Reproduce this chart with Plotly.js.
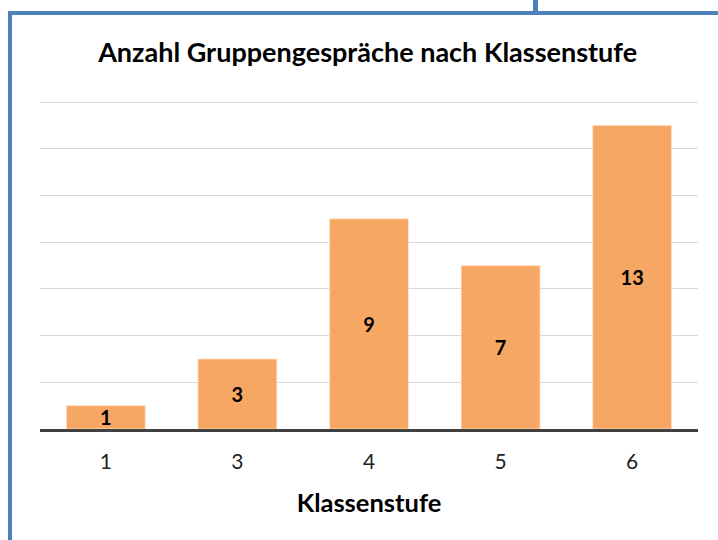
<!DOCTYPE html>
<html>
<head>
<meta charset="utf-8">
<script src="https://cdn.plot.ly/plotly-3.0.1.min.js"></script>
<style>
  html, body { margin: 0; padding: 0; background: #ffffff; }
  #wrap { position: relative; width: 718px; height: 540px; overflow: hidden; }
  #chart { position: absolute; left: 0; top: 0; width: 718px; height: 540px; }
  .frame { position: absolute; background: #4F81BD; }
</style>
</head>
<body>
<div id="wrap">
  <div id="chart"></div>
  <div class="frame" style="left:8px; top:11px; width:720px; height:4px;"></div>
  <div class="frame" style="left:8px; top:11px; width:4px; height:540px;"></div>
  <div class="frame" style="left:533px; top:0px; width:5px; height:13px;"></div>
</div>
<script>
const categories = ["1", "3", "4", "5", "6"];
const counts = [1, 3, 9, 7, 13];
const labels = counts.map(String);

const font = "Lato, 'Open Sans', 'Noto Sans', sans-serif";

const trace = {
  type: "bar",
  x: categories,
  y: counts,
  text: labels,
  textposition: "inside",
  insidetextanchor: "middle",
  textangle: 0,
  constraintext: "none",
  textfont: { family: font, size: 20, color: "#000000", weight: "bold" },
  marker: { color: "#F7A764", line: { color: "rgba(255,230,210,0.8)", width: 1 } },
  hoverinfo: "none"
};

const layout = {
  width: 718,
  height: 540,
  margin: { l: 40, r: 20, t: 95, b: 111 },
  paper_bgcolor: "rgba(0,0,0,0)",
  plot_bgcolor: "rgba(0,0,0,0)",
  bargap: 0.4,
  showlegend: false,
  title: {
    text: "<b>Anzahl Gruppengespräche nach Klassenstufe</b>",
    font: { family: font, size: 27, color: "#000000" },
    x: 0.512, xanchor: "center",
    y: 1 - 53 / 540, yanchor: "middle"
  },
  xaxis: {
    type: "category",
    showline: true,
    linecolor: "#404040",
    linewidth: 3,
    ticks: "",
    ticklabelstandoff: 12,
    tickfont: { family: font, size: 21, color: "#222222" },
    title: { text: "<b>Klassenstufe</b>", font: { family: font, size: 25.5, color: "#000000" }, standoff: 22 },
    showgrid: false
  },
  yaxis: {
    range: [0, 14.3],
    tickvals: [2, 4, 6, 8, 10, 12, 14],
    showticklabels: false,
    showgrid: true,
    gridcolor: "#d9d9d9",
    gridwidth: 1,
    zeroline: false,
    ticks: ""
  }
};

Plotly.newPlot("chart", [trace], layout, { staticPlot: true, displayModeBar: false });
</script>
</body>
</html>
